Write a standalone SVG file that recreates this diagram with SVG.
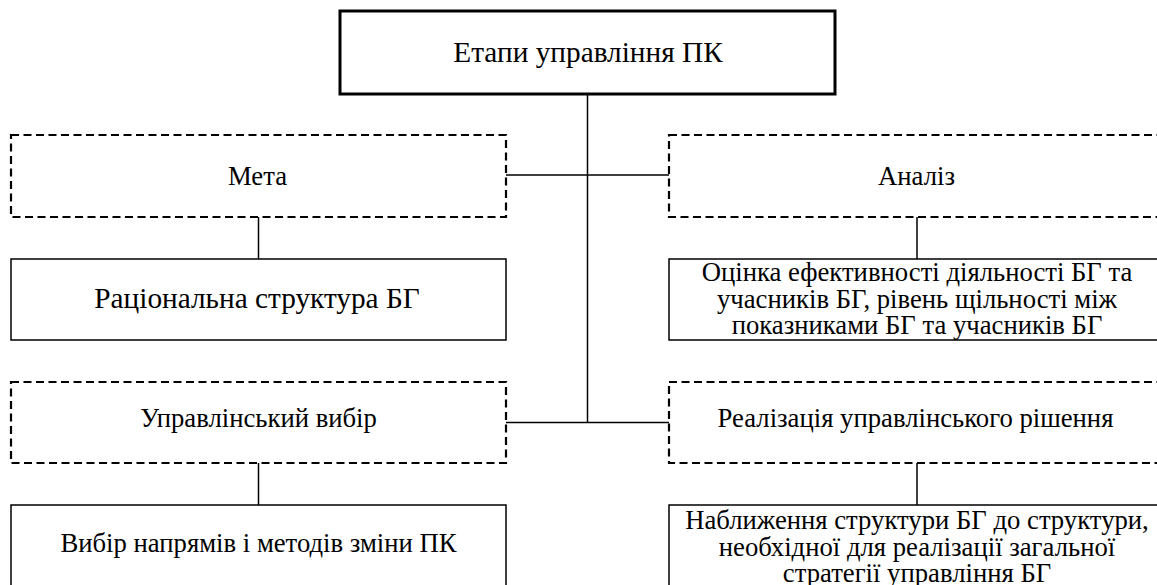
<svg xmlns="http://www.w3.org/2000/svg" width="1157" height="585" viewBox="0 0 1157 585">
<style>
text{font-family:"Liberation Serif","Times New Roman",serif;font-size:26.7px;fill:#000;text-anchor:middle}
.big{font-size:29.3px}
.dash{fill:#fff;stroke:#000;stroke-width:2.2;stroke-dasharray:8 4.5}
.solid{fill:#fff;stroke:#000;stroke-width:1.5}
.main{fill:#fff;stroke:#000;stroke-width:3}
.conn{fill:none;stroke:#000;stroke-width:1.5}
</style>
<rect width="1157" height="585" fill="#fff"/>
<g id="connectors">
<path class="conn" d="M587.5 94V422.5M506 175H669M506 422.5H669M258.5 217V259M917 217V259M258.5 463V505M917 463V505"/>
</g>
<g id="root"><rect class="main" x="340" y="11" width="495" height="83"/><text class="big" x="588" y="62">Етапи управління ПК</text></g>
<g id="meta"><rect class="dash" x="11" y="135" width="495" height="82"/><text x="257.5" y="185">Мета</text></g>
<g id="analiz"><rect class="dash" x="669" y="135" width="500" height="82"/><text x="916.5" y="185">Аналіз</text></g>
<g id="ratsionalna"><rect class="solid" x="11" y="259" width="495" height="81"/><text class="big" x="257" y="308">Раціональна структура БГ</text></g>
<g id="otsinka"><rect class="solid" x="669" y="259" width="500" height="81"/><text x="917" y="281">Оцінка ефективності діяльності БГ та</text><text x="917" y="307.5">учасників БГ, рівень щільності між</text><text x="917" y="334">показниками БГ та учасників БГ</text></g>
<g id="vybir"><rect class="dash" x="11" y="382" width="495" height="81"/><text x="258.5" y="427">Управлінський вибір</text></g>
<g id="realizatsiia"><rect class="dash" x="669" y="382" width="500" height="81"/><text x="915.5" y="427">Реалізація управлінського рішення</text></g>
<g id="napriamy"><rect class="solid" x="11" y="505" width="495" height="100"/><text x="258.5" y="552">Вибір напрямів і методів зміни ПК</text></g>
<g id="nablyzhennia"><rect class="solid" x="669" y="505" width="500" height="100"/><text x="917" y="529">Наближення структури БГ до структури,</text><text x="917" y="555.5">необхідної для реалізації загальної</text><text x="917" y="582">стратегії управління БГ</text></g>
</svg>
